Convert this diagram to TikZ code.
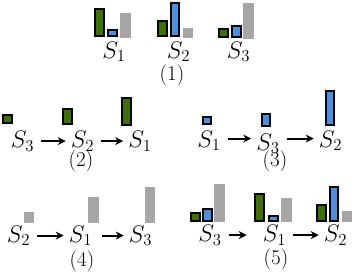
\RequirePackage{fix-cm}
\documentclass[tikz,border=0pt]{standalone}
\usepackage{tikz}
\usetikzlibrary{arrows.meta, positioning}
\definecolor{bargreen}{RGB}{62, 112, 4}
\definecolor{barblue}{RGB}{74, 144, 226}
\definecolor{bargray}{RGB}{166, 166, 166}

\begin{document}
\begin{tikzpicture}[
			x=1pt, y=-1pt,
			lbl/.style={inner sep=0pt, anchor=base, font=\fontsize{24}{28}\selectfont},
			num/.style={inner sep=0pt, anchor=base, font=\fontsize{21}{25}\selectfont},
			gbar/.style={rectangle, draw=black, line width=2pt, fill=bargreen, minimum width=9pt, inner sep=0pt, anchor=south},
			bbar/.style={rectangle, draw=black, line width=2pt, fill=barblue, minimum width=8.5pt, inner sep=0pt, anchor=south},
			hbar/.style={rectangle, fill=bargray, minimum width=10.5pt, inner sep=0pt, anchor=south},
			arrow/.style={-{Stealth[length=8pt, width=8pt]}, line width=2pt, draw=black, shorten <=7pt, shorten >=5pt}
		]
		\useasboundingbox (0,0) rectangle (354,274);
		
		% (1) all three bars
		\node[lbl] (s1a) at (114,58) {$S_1$};
		\node[lbl] (s2a) at (178.5,58) {$S_2$};
		\node[lbl] (s3a) at (238.5,58) {$S_3$};
		\node[num] (n1) at (172,80.5) {(1)};
		\node[gbar, minimum height=27pt] (g1a) at (99.5,37.3) {};
		\node[bbar, minimum height=6pt] (b1a) at (112.5,37.3) {};
		\node[hbar, minimum height=25pt] (h1a) at (125.5,38.3) {};
		\node[gbar, minimum height=15pt] (g2a) at (162,37.3) {};
		\node[bbar, minimum height=33pt] (b2a) at (175,37.3) {};
		\node[hbar, minimum height=10pt] (h2a) at (188,38.3) {};
		\node[gbar, minimum height=8pt] (g3a) at (223,37.8) {};
		\node[bbar, minimum height=11pt] (b3a) at (236.5,37.8) {};
		\node[hbar, minimum height=36pt] (h3a) at (248.5,38.8) {};
		
		% (2) green bars
		\node[lbl] (s3b) at (22.5,147.5) {$S_3$};
		\node[lbl] (s2b) at (82.5,147.5) {$S_2$};
		\node[lbl] (s1b) at (140,147.5) {$S_1$};
		\node[num] (n2) at (81,166) {(2)};
		\node[gbar, minimum height=8pt] (g3b) at (7.5,123.8) {};
		\node[gbar, minimum height=15pt] (g2b) at (67.5,125) {};
		\node[gbar, minimum height=27pt] (g1b) at (126,126) {};
		\draw[arrow] (s3b) -- (s2b);
		\draw[arrow] (s2b) -- (s1b);
		
		% (3) blue bars
		\node[lbl] (s1c) at (209,147) {$S_1$};
		\node[lbl] (s3c) at (268,150) {$S_3$};
		\node[lbl] (s2c) at (330.5,147) {$S_2$};
		\node[num] (n3) at (275,166) {(3)};
		\node[bbar, minimum height=7pt] (b1c) at (207,124.8) {};
		\node[bbar, minimum height=12pt] (b3c) at (266,127.2) {};
		\node[bbar, minimum height=34pt] (b2c) at (330,125.8) {};
		\draw[arrow] ([yshift=2pt]s1c.east) -- ([yshift=2pt]s1c.east -| s3c.west);
		\draw[arrow] ([yshift=2pt]s2c.west -| s3c.east) -- ([yshift=2pt]s2c.west);
		
		% (4) gray bars
		\node[lbl] (s2d) at (18.5,242) {$S_2$};
		\node[lbl] (s1d) at (80.5,242) {$S_1$};
		\node[lbl] (s3d) at (140.5,242) {$S_3$};
		\node[num] (n4) at (82,266) {(4)};
		\node[hbar, minimum height=11pt] (h2d) at (29,223) {};
		\node[hbar, minimum height=26pt] (h1d) at (93.5,223) {};
		\node[hbar, minimum height=36pt] (h3d) at (150,223) {};
		\draw[arrow] (s2d) -- (s1d);
		\draw[arrow, shorten <=10pt] (s1d) -- (s3d);
		
		% (5) all three bars again
		\node[lbl] (s3e) at (210,241.5) {$S_3$};
		\node[lbl] (s1e) at (274.5,241.5) {$S_1$};
		\node[lbl] (s2e) at (335.5,241.5) {$S_2$};
		\node[num] (n5) at (276,264) {(5)};
		\node[gbar, minimum height=8pt] (g3e) at (195,221.5) {};
		\node[bbar, minimum height=12pt] (b3e) at (207.5,221.5) {};
		\node[hbar, minimum height=38pt] (h3e) at (219.5,222.5) {};
		\node[gbar, minimum height=27pt] (g1e) at (259.5,221.5) {};
		\node[bbar, minimum height=5pt] (b1e) at (273.5,221.5) {};
		\node[hbar, minimum height=24pt] (h1e) at (286.5,222.5) {};
		\node[gbar, minimum height=16pt] (g2e) at (321.5,221.5) {};
		\node[bbar, minimum height=34pt] (b2e) at (334,221.5) {};
		\node[hbar, minimum height=11pt] (h2e) at (347,222.5) {};
		\draw[arrow, shorten >=16pt] (s3e) -- (s1e);
		\draw[arrow] (s1e) -- (s2e);
		\end{tikzpicture}
\end{document}
